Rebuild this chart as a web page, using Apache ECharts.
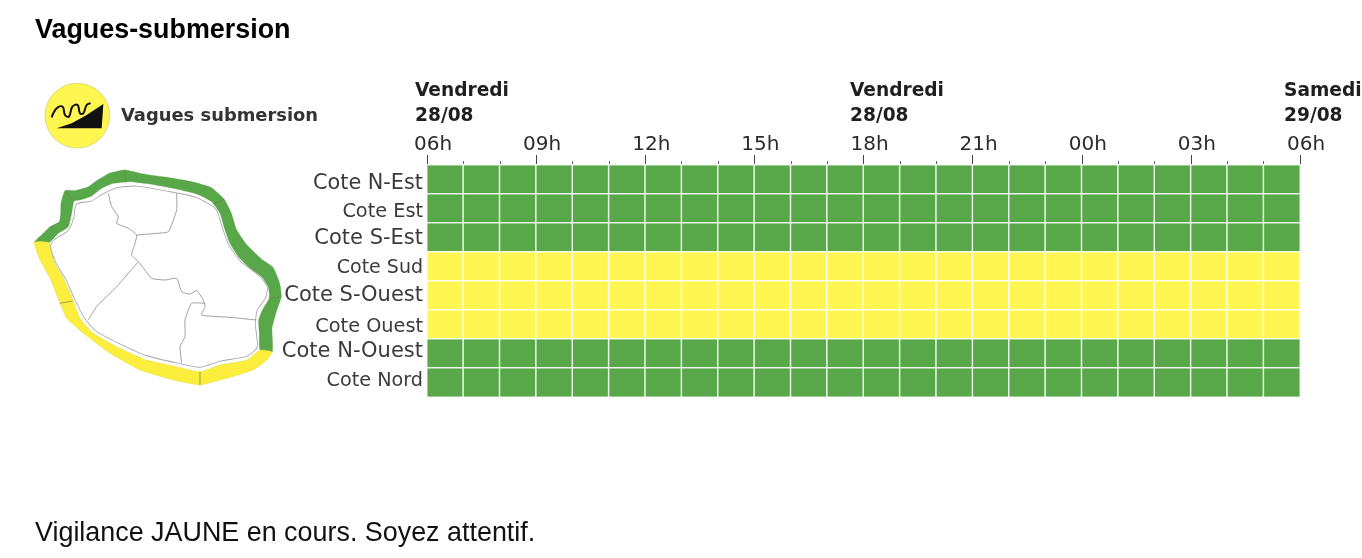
<!DOCTYPE html>
<html><head><meta charset="utf-8">
<style>html,body{margin:0;padding:0;background:#fff}#c{width:1362px;height:558px}</style>
<script src="https://cdn.jsdelivr.net/npm/echarts@6/dist/echarts.min.js"></script></head>
<body><div id="c"></div>
<script>
const zones = ['Cote N-Est','Cote Est','Cote S-Est','Cote Sud','Cote S-Ouest','Cote Ouest','Cote N-Ouest','Cote Nord'];
const zoneLevels = [1,1,1,2,2,2,1,1];
const hourSlots = ['06h','07h','08h','09h','10h','11h','12h','13h','14h','15h','16h','17h','18h','19h','20h','21h','22h','23h','00h','01h','02h','03h','04h','05h'];
const tickLabels = ['06h','09h','12h','15h','18h','21h','00h','03h','06h'];
const dayHeaders = [['Vendredi','28/08'],['Vendredi','28/08'],['Samedi','29/08']];
const title = 'Vagues-submersion';
const footer = 'Vigilance JAUNE en cours. Soyez attentif.';
const legendLabel = 'Vagues submersion';

const GREEN = '#58a748', YELLOW = '#fff652', TEXT = '#2b2b2b';
const heatData = [];
zones.forEach((z, r) => hourSlots.forEach((h, c) => heatData.push([c, r, zoneLevels[r]])));

// Row label styling as seen in the picture (uneven sizes and baselines)
const rowLabelStyles = [[20.8,8],[19.3,6],[21,2],[19,4],[21,0],[19.3,4],[21,0],[19.2,0]];
const rowLabelBottom = [0,0,0,0,0,0,4,2];

// Decorative island drawing (3x coordinates, placed by the group below)
const greenCoast = [[103,517],[130,490],[150,470],[178,455],[182,430],[183,400],[195,362],[225,362],[262,352],[290,332],[330,309],[375,300],[430,312],[500,322],[570,334],[632,352],[673,388],[694,430],[709,478],[739,523],[784,567],[819,592],[839,640],[844,680],[829,725],[816,775],[817,845],[780,840],[778,790],[776,750],[790,715],[808,685],[805,650],[785,620],[745,590],[715,560],[690,520],[672,470],[660,430],[635,395],[590,372],[520,355],[450,342],[390,335],[340,340],[305,355],[275,378],[240,390],[222,393],[215,430],[205,470],[175,490],[147,518]];
const yellowCoast = [[103,517],[120,570],[150,625],[180,700],[200,745],[250,790],[330,850],[420,900],[520,930],[600,945],[680,925],[760,900],[800,870],[817,845],[780,840],[740,870],[660,885],[600,905],[530,890],[440,870],[350,830],[280,790],[240,745],[215,680],[190,625],[160,570],[147,518]];
const island = [[155,528],[170,575],[200,625],[227,685],[255,740],[290,780],[355,815],[440,853],[530,875],[600,888],[660,870],[740,855],[768,830],[762,760],[768,720],[793,682],[798,650],[775,620],[720,578],[682,525],[662,470],[645,420],[585,385],[500,367],[410,352],[350,357],[305,378],[275,397],[232,405],[225,445],[207,485],[165,512]];
const communeLines = [
 [[325,370],[335,410],[355,440],[350,460],[385,475],[410,495],[405,520],[395,555],[415,575],[435,600],[455,625],[495,630],[530,625],[545,665],[570,672],[590,662],[610,690],[615,710],[605,735],[690,742],[770,750]],
 [[530,370],[530,420],[505,485],[470,490],[410,495]],
 [[415,575],[350,650],[290,710],[265,750]],
 [[615,700],[575,700],[555,750],[555,800],[540,830],[545,880]]
];
const coastTicks = [[[375,302],[378,338]],[[670,390],[640,402]],[[195,365],[222,393]],[[840,680],[808,685]],[[180,700],[218,693]],[[600,945],[600,905]]];
const wedge = [[170,175],[305,175],[310,102],[260,135],[215,160]];
const wave = [[155,142],[170,115],[188,110],[195,135],[207,140],[217,110],[233,105],[240,130],[250,130],[260,105],[272,100]];

const islandParts = [
 {type:'polygon',shape:{points:greenCoast,smooth:0.15},style:{fill:GREEN,stroke:'#4b9a3e',lineWidth:1}},
 {type:'polygon',shape:{points:yellowCoast,smooth:0.15},style:{fill:'#fbee3c',stroke:'#d8cf3f',lineWidth:1}},
 {type:'polygon',shape:{points:island,smooth:0.2},style:{fill:'#fff',stroke:'#a5a5a5',lineWidth:10}},
 {type:'polygon',shape:{points:island,smooth:0.2},style:{fill:'#fff',stroke:'#fff',lineWidth:5}},
 ...communeLines.map(p=>({type:'polyline',shape:{points:p,smooth:0.15},style:{fill:null,stroke:'#8d8d8d',lineWidth:2.5}})),
 ...coastTicks.map(p=>({type:'polyline',shape:{points:p},style:{fill:null,stroke:'#6d7d50',lineWidth:2}})),
 {type:'circle',shape:{cx:232,cy:137,r:97},style:{fill:YELLOW,stroke:'#cfc95a',lineWidth:2}},
 {type:'polygon',shape:{points:wedge},style:{fill:'#111'}},
 {type:'polyline',shape:{points:wave,smooth:0.4},style:{fill:null,stroke:'#111',lineWidth:6}}
];

const txt = (left, top, text, font, fill) => ({type:'text',left,top,style:{text,font,fill:fill||TEXT,lineHeight:25}});
const dayX = [415, 850, 1284];

const rich = {};
rowLabelStyles.forEach((s,i)=>{rich['r'+i]={fontFamily:'DejaVu Sans',fontSize:s[0],color:'#3a3a3a',padding:[s[1],0,rowLabelBottom[i],0]};});

const chart = echarts.init(document.getElementById('c'), null, {renderer:'canvas'});
chart.setOption({
  animation:false,
  backgroundColor:'#fff',
  title:[
    {text:title,left:35,top:17,padding:0,textStyle:{fontFamily:'Liberation Sans',fontWeight:'bold',fontSize:26.9,color:'#000'}},
    {text:footer,left:35,top:520,padding:0,textStyle:{fontFamily:'Liberation Sans',fontWeight:'normal',fontSize:26.9,color:'#111'}}
  ],
  grid:{left:427,top:165,width:873,height:232,containLabel:false},
  xAxis:[
    {type:'category',data:hourSlots,position:'top',axisLine:{show:false},axisTick:{show:false},axisLabel:{show:false},splitLine:{show:false}},
    {type:'value',min:0,max:24,interval:3,position:'top',axisLine:{show:false},splitLine:{show:false},
     axisTick:{show:true,length:10,inside:false,lineStyle:{color:'#444',width:1}},
     minorTick:{show:true,splitNumber:3,length:4,lineStyle:{color:'#666',width:1}},
     minorSplitLine:{show:false},
     axisLabel:{show:true,margin:10,fontFamily:'DejaVu Sans',fontSize:20,color:TEXT,padding:[0,0,0,12],showMinLabel:true,showMaxLabel:true,hideOverlap:false,
       formatter:v=>tickLabels[v/3]}}
  ],
  yAxis:{type:'category',data:zones,inverse:true,axisLine:{show:false},axisTick:{show:false},splitLine:{show:false},
    axisLabel:{margin:4,interval:0,rich,formatter:(v,i)=>`{r${i}|${v}}`}},
  visualMap:{show:false,type:'piecewise',dimension:2,seriesIndex:0,pieces:[{value:1,color:GREEN},{value:2,color:YELLOW}]},
  series:[{type:'heatmap',xAxisIndex:0,yAxisIndex:0,data:heatData,silent:true,
    itemStyle:{borderColor:'rgba(255,255,255,0.85)',borderWidth:1.5}}],
  graphic:{elements:[
    {type:'group',x:0,y:70,scaleX:1/3,scaleY:1/3,children:islandParts,silent:true},
    txt(121,104,legendLabel,'bold 17.9px "DejaVu Sans"','#333'),
    ...dayHeaders.map((d,i)=>txt(dayX[i],79,d.join('\n'),'bold 18.6px "DejaVu Sans"','#1f1f1f'))
  ]}
});
</script></body></html>
